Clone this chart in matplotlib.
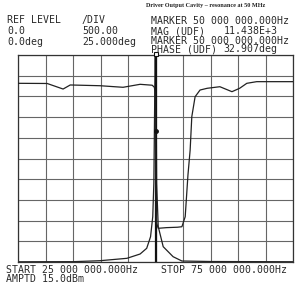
import numpy as np
import matplotlib
matplotlib.use('Agg')
import matplotlib.pyplot as plt

# magnitude trace (MHz, linear units, 500/div)
mag_f = [25.0, 30.0, 35.0, 39.9, 44.8, 47.2, 48.4, 49.1, 49.5, 49.7, 49.9, 50.0,
         50.1, 50.2, 50.5, 51.4, 53.2, 54.8, 60.0, 65.0, 70.0, 75.0]
mag_v = [5, 7, 8, 31, 89, 193, 331, 611, 1094, 1908, 4500, 11438,
         4500, 1908, 853, 370, 128, 24, 12, 10, 8, 6]

# phase trace (MHz, deg, 25 deg/div, ref at centre)
ph_f = [25.0, 30.3, 33.2, 34.5, 39.9, 44.1, 47.2, 49.4, 49.8, 49.9, 50.0, 50.1,
        50.2, 50.5, 52.0, 54.0, 54.8, 55.4, 55.9, 56.3, 56.6, 57.2, 58.1,
        59.4, 61.7, 63.9, 65.3, 66.6, 68.4, 75.0]
ph_v = [90.8, 90.6, 83.9, 88.8, 87.9, 86.0, 89.6, 88.5, 86.0, 80.0, 32.9, -60.0,
        -78.0, -84.3, -83.5, -83.0, -82.4, -70.3, -20.0, 10.3, 50.5, 74.6, 82.7,
        84.8, 86.7, 80.7, 84.8, 90.8, 92.8, 92.8]

marker_f = 50.0
marker_ph = 32.907

fig = plt.figure(figsize=(2.98, 2.84), dpi=100)
ax = fig.add_axes([18/298, 22/284, 275/298, 207/284])
ax.set_xlim(25, 75)
ax.set_ylim(0, 5000)
ax.set_xticks(np.linspace(25, 75, 11))
ax.set_yticks(np.linspace(0, 5000, 11))
ax.tick_params(length=0, labelbottom=False, labelleft=False)
ax.grid(True, color='#666666', lw=0.8)
for s in ax.spines.values():
    s.set_color('#333333')
    s.set_linewidth(0.9)
ax.plot(mag_f, mag_v, color='#222222', lw=0.9)

ax2 = ax.twinx()
ax2.set_ylim(-125, 125)
ax2.set_yticks([])
for s in ax2.spines.values():
    s.set_visible(False)
ax2.plot(ph_f, ph_v, color='#222222', lw=0.9)

# marker
ax.axvline(marker_f, color='#111111', lw=1.6)
ax2.plot([marker_f], [marker_ph], 'o', color='#111111', ms=2.5)
ax2.plot([marker_f], [126], 's', mfc='white', mec='#111111', ms=3, mew=0.8, clip_on=False)

mono = dict(family='DejaVu Sans Mono', fontsize=7.1, color='#2a2a2a', va='center')
fig.text(146/298, 1 - 6/284, 'Driver Output Cavity \u2013 resonance at 50 MHz',
         family='Liberation Serif', fontweight='bold', fontsize=4.4, va='center', color='#222222')
fig.text(7/298, 1 - 20/284, 'REF LEVEL', **mono)
fig.text(7/298, 1 - 30.7/284, '0.0', **mono)
fig.text(7/298, 1 - 41.7/284, '0.0deg', **mono)
fig.text(82/298, 1 - 20/284, '/DIV', **mono)
fig.text(82/298, 1 - 30.7/284, '500.00', **mono)
fig.text(82/298, 1 - 41.7/284, '25.000deg', **mono)
fig.text(151/298, 1 - 21.5/284, 'MARKER 50 000 000.000Hz', **mono)
fig.text(151/298, 1 - 31.5/284, 'MAG (UDF)', **mono)
fig.text(278/298, 1 - 31.5/284, '11.438E+3', ha='right', **mono)
fig.text(151/298, 1 - 41/284, 'MARKER 50 000 000.000Hz', **mono)
fig.text(151/298, 1 - 49.5/284, 'PHASE (UDF)', **mono)
fig.text(277/298, 1 - 49.5/284, '32.907deg', ha='right', **mono)
fig.text(6/298, 1 - 269.7/284, 'START 25 000 000.000Hz', **mono)
fig.text(161/298, 1 - 269.7/284, 'STOP 75 000 000.000Hz', **mono)
fig.text(6/298, 1 - 278.7/284, 'AMPTD 15.0dBm', **mono)

fig.savefig('out.png', dpi=100)
